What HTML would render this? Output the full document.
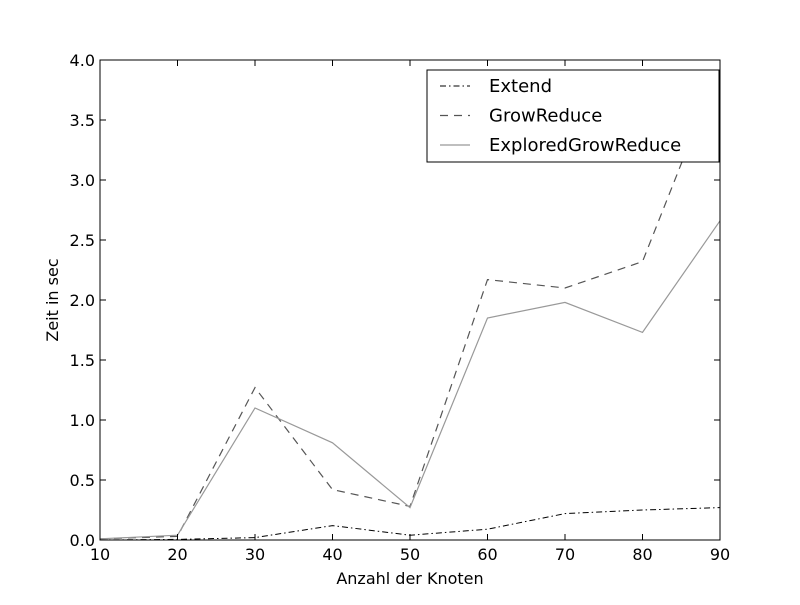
<!DOCTYPE html>
<html><head><meta charset="utf-8"><style>
body{margin:0;background:#fff;}
svg text{font-family:"DejaVu Sans","Liberation Sans",sans-serif;}
</style></head><body>
<svg id="chart" width="800" height="600" xmlns="http://www.w3.org/2000/svg"></svg>
<script>
const categories=[10,20,30,40,50,60,70,80,90];
const extendValues=[0.0,0.005,0.02,0.12,0.04,0.09,0.22,0.25,0.27];
const growReduceValues=[0.01,0.03,1.27,0.42,0.28,2.17,2.10,2.32,3.95];
const exploredValues=[0.01,0.04,1.10,0.81,0.27,1.85,1.98,1.73,2.66];
const xTicks=[10,20,30,40,50,60,70,80,90];
const yTicks=[0,0.5,1,1.5,2,2.5,3,3.5,4];
const yTickLabels=["0.0","0.5","1.0","1.5","2.0","2.5","3.0","3.5","4.0"];
const seriesNames=["Extend","GrowReduce","ExploredGrowReduce"];

const svg=document.getElementById('chart');
const NS="http://www.w3.org/2000/svg";
const L=100,R=720,T=60,B=540;
const x=v=>L+(v-10)/80*(R-L);
const y=v=>B-v/4*(B-T);
function mk(tag,attrs,parent){const e=document.createElementNS(NS,tag);for(const k in attrs)e.setAttribute(k,attrs[k]);(parent||svg).appendChild(e);return e;}

const styles=[
 {stroke:"#000",dash:"6,3,1.5,3",w:1},
 {stroke:"#555",dash:"8,6",w:1.2},
 {stroke:"#999",dash:"",w:1.2}
];
const allSeries=[extendValues,growReduceValues,exploredValues];
const seriesKeys=["extend","grow-reduce","explored-grow-reduce"];
allSeries.forEach((vals,i)=>{
  const p=mk('polyline',{points:vals.map((v,j)=>x(categories[j])+','+y(v)).join(' '),fill:'none',stroke:styles[i].stroke,'stroke-width':styles[i].w,'stroke-dasharray':styles[i].dash});
  
  
});

const frame=mk('rect',{x:L,y:T,width:R-L,height:B-T,fill:'none',stroke:'#000','stroke-width':1});



xTicks.forEach(t=>{
  mk('line',{x1:x(t),x2:x(t),y1:B,y2:B-6,stroke:'#000'});
  mk('line',{x1:x(t),x2:x(t),y1:T,y2:T+6,stroke:'#000'});
  const tx=mk('text',{x:x(t),y:B+20,'text-anchor':'middle','font-size':16});
  tx.textContent=t;
  
  
});
yTicks.forEach((t,i)=>{
  mk('line',{x1:L,x2:L+6,y1:y(t),y2:y(t),stroke:'#000'});
  mk('line',{x1:R,x2:R-6,y1:y(t),y2:y(t),stroke:'#000'});
  const tx=mk('text',{x:L-5,y:y(t)+6,'text-anchor':'end','font-size':16});
  tx.textContent=yTickLabels[i];
  
  
});
const xt=mk('text',{x:410,y:584,'text-anchor':'middle','font-size':16});
xt.textContent="Anzahl der Knoten";


const yt=mk('text',{x:58,y:300,'text-anchor':'middle','font-size':16,transform:'rotate(-90 58 300)'});
yt.textContent="Zeit in sec";



const lg=mk('g',{});


mk('rect',{x:427,y:70,width:292,height:92,fill:'#fff',stroke:'#000'},lg);
seriesNames.forEach((n,i)=>{
  const yy=86+i*29.5;
  const ln=mk('line',{x1:440,x2:470,y1:yy,y2:yy,stroke:styles[i].stroke,'stroke-width':styles[i].w,'stroke-dasharray':styles[i].dash},lg);
  
  
  const tx=mk('text',{x:489,y:yy+6,'font-size':18},lg);
  tx.textContent=n;
  
  
});
</script>
</body></html>
